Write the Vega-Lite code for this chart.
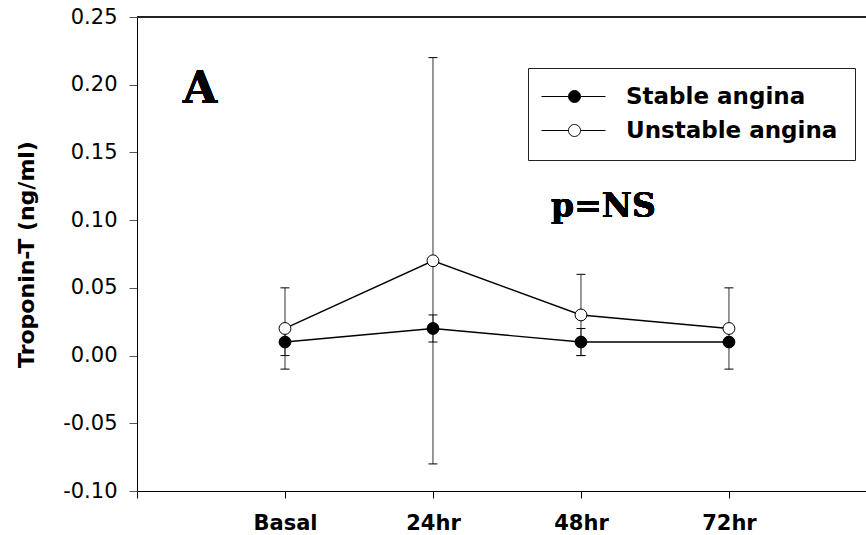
{
  "$schema": "https://vega.github.io/schema/vega-lite/v6.json",
  "width": 729,
  "height": 474,
  "autosize": {"type": "none"},
  "padding": {"left": 137, "top": 17, "right": 0, "bottom": 44},
  "background": "white",
  "config": {
    "view": {"stroke": null},
    "font": "DejaVu Sans",
    "legend": {
      "orient": "none",
      "legendX": 391,
      "legendY": 51,
      "title": null,
      "strokeColor": "#222",
      "strokeWidth": 1,
      "fillColor": "white",
      "padding": 17,
      "symbolType": "M-3,0H2.4M4.8,0H9.8M4.8,0A1.2,1.2 0 1,1 2.4,0A1.2,1.2 0 1,1 4.8,0Z",
      "symbolSize": 100,
      "symbolStrokeColor": "black",
      "symbolStrokeWidth": 1,
      "symbolOpacity": 1,
      "labelFont": "DejaVu Sans",
      "labelFontSize": 23,
      "labelFontWeight": "bold",
      "labelColor": "black",
      "labelOffset": 58,
      "rowPadding": 10,
      "labelLimit": 400
    }
  },
  "data": {
    "values": [
      {"time": 1, "series": "Stable angina", "value": 0.01, "lo": 0.0, "hi": 0.02},
      {"time": 2, "series": "Stable angina", "value": 0.02, "lo": 0.01, "hi": 0.03},
      {"time": 3, "series": "Stable angina", "value": 0.01, "lo": 0.0, "hi": 0.02},
      {"time": 4, "series": "Stable angina", "value": 0.01, "lo": 0.01, "hi": 0.01},
      {"time": 1, "series": "Unstable angina", "value": 0.02, "lo": -0.01, "hi": 0.05},
      {"time": 2, "series": "Unstable angina", "value": 0.07, "lo": -0.08, "hi": 0.22},
      {"time": 3, "series": "Unstable angina", "value": 0.03, "lo": 0.0, "hi": 0.06},
      {"time": 4, "series": "Unstable angina", "value": 0.02, "lo": -0.01, "hi": 0.05}
    ]
  },
  "encoding": {
    "x": {
      "field": "time",
      "type": "quantitative",
      "scale": {"domain": [0, 4.926], "nice": false, "zero": false},
      "axis": {
        "title": null,
        "grid": false,
        "values": [0, 1, 2, 3, 4],
        "labelExpr": "['', 'Basal', '24hr', '48hr', '72hr'][datum.value]",
        "labelFont": "DejaVu Sans",
        "labelFontSize": 21,
        "labelFontWeight": "bold",
        "labelColor": "black",
        "labelPadding": 14,
        "tickSize": 7,
        "tickColor": "black",
        "domainColor": "black",
        "labelFlush": false,
        "labelOverlap": false
      }
    },
    "y": {
      "field": "value",
      "type": "quantitative",
      "scale": {"domain": [-0.1, 0.25], "nice": false, "zero": false},
      "axis": {
        "title": "Troponin-T (ng/ml)",
        "grid": false,
        "values": [-0.1, -0.05, 0, 0.05, 0.1, 0.15, 0.2, 0.25],
        "labelExpr": "datum.value < -0.0001 ? '-' + format(-datum.value, '.2f') : format(abs(datum.value), '.2f')",
        "labelFont": "DejaVu Sans",
        "labelFontSize": 21,
        "labelColor": "black",
        "labelPadding": 12,
        "tickSize": 8,
        "tickColor": "#555",
        "domainColor": "black",
        "labelFlush": false,
        "labelOverlap": false,
        "titleFont": "DejaVu Sans",
        "titleFontSize": 22,
        "titleFontWeight": "bold",
        "titleColor": "black",
        "titleAngle": -90,
        "titleX": -104,
        "titleY": 237,
        "titleAlign": "center",
        "titleBaseline": "alphabetic"
      }
    }
  },
  "layer": [
    {
      "mark": {"type": "rule", "stroke": "#222", "strokeWidth": 1},
      "encoding": {"x": null, "y": {"datum": 0.25}}
    },
    {
      "mark": {"type": "rule", "stroke": "#333", "strokeWidth": 1},
      "encoding": {"y": {"field": "lo", "type": "quantitative"}, "y2": {"field": "hi"}}
    },
    {
      "mark": {"type": "point", "shape": "stroke", "size": 81, "stroke": "black", "strokeWidth": 1, "filled": false, "opacity": 1},
      "encoding": {"y": {"field": "lo", "type": "quantitative"}}
    },
    {
      "mark": {"type": "point", "shape": "stroke", "size": 81, "stroke": "black", "strokeWidth": 1, "filled": false, "opacity": 1},
      "encoding": {"y": {"field": "hi", "type": "quantitative"}}
    },
    {
      "mark": {"type": "line", "color": "black", "strokeWidth": 1.4},
      "encoding": {"detail": {"field": "series", "type": "nominal"}}
    },
    {
      "mark": {"type": "point", "shape": "circle", "filled": true, "size": 140, "stroke": "black", "strokeWidth": 1, "opacity": 1},
      "encoding": {
        "fill": {
          "field": "series",
          "type": "nominal",
          "scale": {"domain": ["Stable angina", "Unstable angina"], "range": ["black", "white"]}
        }
      }
    },
    {
      "mark": {"type": "text", "text": "A", "font": "DejaVu Serif", "fontWeight": "bold", "fontSize": 44, "align": "center", "baseline": "alphabetic", "color": "black"},
      "encoding": {"x": {"datum": 0.426}, "y": {"datum": 0.1865}}
    },
    {
      "mark": {"type": "text", "text": "p=NS", "font": "DejaVu Serif", "fontWeight": "bold", "fontSize": 33, "align": "center", "baseline": "alphabetic", "color": "black"},
      "encoding": {"x": {"datum": 3.152}, "y": {"datum": 0.1023}}
    }
  ]
}
